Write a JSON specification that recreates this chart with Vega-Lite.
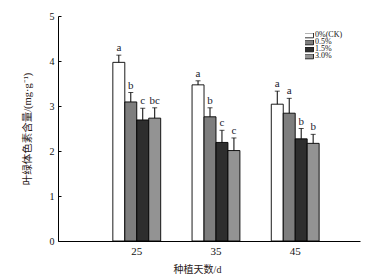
{
  "$schema": "https://vega.github.io/schema/vega-lite/v6.json",
  "autosize": {"type": "none"},
  "padding": {"left": 58, "top": 16, "right": 30, "bottom": 39},
  "width": 302,
  "height": 225,
  "background": "white",
  "config": {
    "view": {"stroke": null},
    "font": "Liberation Serif"
  },
  "data": {
    "values": [
      {"day": "25", "trt": "0%(CK)", "value": 3.97, "err": 4.13, "sig": "a"},
      {"day": "25", "trt": "0.5%", "value": 3.09, "err": 3.30, "sig": "b"},
      {"day": "25", "trt": "1.5%", "value": 2.69, "err": 2.95, "sig": "c"},
      {"day": "25", "trt": "3.0%", "value": 2.73, "err": 2.96, "sig": "bc"},
      {"day": "35", "trt": "0%(CK)", "value": 3.47, "err": 3.56, "sig": "a"},
      {"day": "35", "trt": "0.5%", "value": 2.76, "err": 2.96, "sig": "b"},
      {"day": "35", "trt": "1.5%", "value": 2.19, "err": 2.46, "sig": "c"},
      {"day": "35", "trt": "3.0%", "value": 2.01, "err": 2.29, "sig": "c"},
      {"day": "45", "trt": "0%(CK)", "value": 3.04, "err": 3.33, "sig": "a"},
      {"day": "45", "trt": "0.5%", "value": 2.84, "err": 3.17, "sig": "a"},
      {"day": "45", "trt": "1.5%", "value": 2.27, "err": 2.50, "sig": "b"},
      {"day": "45", "trt": "3.0%", "value": 2.17, "err": 2.37, "sig": "b"}
    ]
  },
  "encoding": {
    "x": {
      "field": "day",
      "type": "nominal",
      "scale": {"paddingInner": 0.396, "paddingOuter": 0.604, "align": 0.573},
      "axis": {
        "title": "种植天数/d",
        "titleFont": "Liberation Serif, Noto Sans CJK SC",
        "titleFontSize": 10,
        "titleFontWeight": "normal",
        "titleColor": "#2a2018",
        "titleX": 139,
        "titleY": 28,
        "titleAlign": "center",
        "titleBaseline": "middle",
        "labelAngle": 0,
        "labelFont": "Liberation Serif",
        "labelFontSize": 11,
        "labelColor": "#111",
        "labelBaseline": "middle",
        "labelPadding": 10,
        "ticks": false,
        "tickSize": 0,
        "domainColor": "#000",
        "domainWidth": 1
      }
    },
    "xOffset": {
      "field": "trt",
      "type": "nominal",
      "sort": ["0%(CK)", "0.5%", "1.5%", "3.0%"],
      "scale": {"paddingInner": 0, "paddingOuter": 0}
    }
  },
  "layer": [
    {
      "mark": {"type": "bar", "stroke": "#000", "strokeWidth": 0.9},
      "encoding": {
        "y": {
          "field": "value",
          "type": "quantitative",
          "scale": {"domain": [0, 5], "nice": false},
          "axis": {
            "title": "叶绿体色素含量/(mg·g⁻¹)",
            "titleFont": "Liberation Serif, Noto Sans CJK SC",
            "titleFontSize": 10.5,
            "titleFontWeight": "normal",
            "titleColor": "#2a2018",
            "titleX": -31,
            "titleBaseline": "middle",
            "values": [0, 1, 2, 3, 4, 5],
            "grid": false,
            "tickSize": -3,
            "tickColor": "#000",
            "labelFont": "Liberation Serif",
            "labelFontSize": 10,
            "labelColor": "#111",
            "labelPadding": 7,
            "domainColor": "#000",
            "domainWidth": 1
          }
        },
        "fill": {
          "field": "trt",
          "type": "nominal",
          "scale": {
            "domain": ["0%(CK)", "0.5%", "1.5%", "3.0%"],
            "range": ["#ffffff", "#7e7e7e", "#2e2e2e", "#939393"]
          },
          "legend": {
            "title": null,
            "orient": "none",
            "legendX": 247,
            "legendY": 17,
            "symbolType": "M-2,-1.1H2V1.1H-2Z",
            "symbolSize": 20.25,
            "symbolStrokeColor": "#000",
            "symbolStrokeWidth": 0.8,
            "symbolOpacity": 1,
            "labelFont": "Liberation Serif",
            "labelFontSize": 8,
            "labelColor": "#111",
            "labelOffset": 2,
            "clipHeight": 4.7,
            "rowPadding": -3.5
          }
        }
      }
    },
    {
      "mark": {"type": "rule", "color": "#000", "strokeWidth": 1},
      "encoding": {
        "y": {"field": "value", "type": "quantitative"},
        "y2": {"field": "err"}
      }
    },
    {
      "mark": {"type": "tick", "color": "#000", "thickness": 1, "size": 5},
      "encoding": {
        "y": {"field": "err", "type": "quantitative"}
      }
    },
    {
      "mark": {"type": "text", "baseline": "bottom", "dy": -2, "font": "Liberation Serif", "fontSize": 11, "color": "#1a1a2e"},
      "encoding": {
        "y": {"field": "err", "type": "quantitative"},
        "text": {"field": "sig"}
      }
    }
  ]
}
